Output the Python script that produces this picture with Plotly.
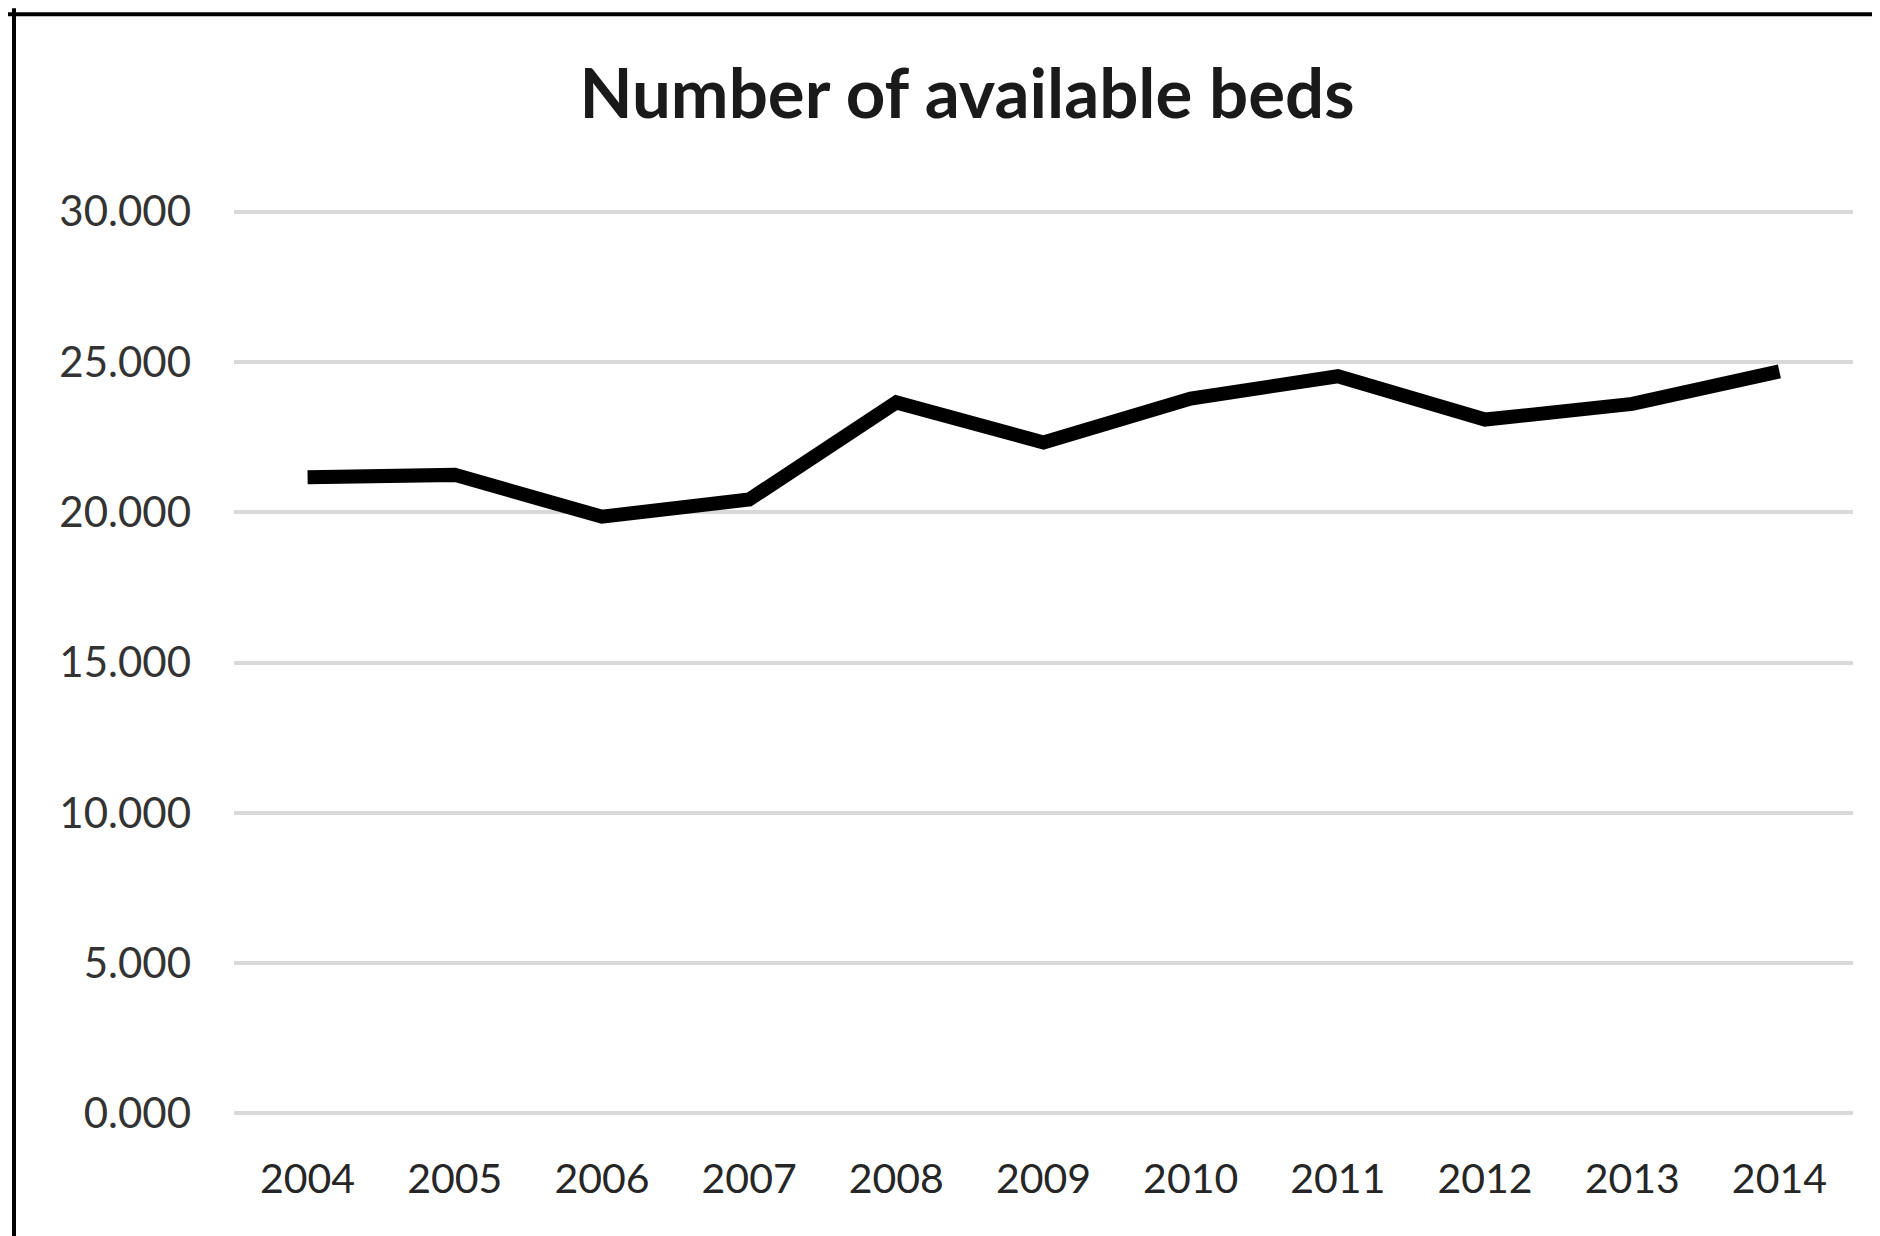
import plotly.graph_objects as go

years = ["2004", "2005", "2006", "2007", "2008", "2009", "2010", "2011", "2012", "2013", "2014"]
beds = [21160, 21240, 19850, 20420, 23650, 22320, 23780, 24520, 23080, 23600, 24680]
y_tick_vals = [0, 5000, 10000, 15000, 20000, 25000, 30000]
y_tick_text = ["0.000", "5.000", "10.000", "15.000", "20.000", "25.000", "30.000"]
title_text = "Number of available beds"

W, H = 1880, 1236
OFF = 8  # page body offset
Y_MIN, Y_MAX = 0, 30000
PAD = 150  # extra range so edge gridlines are drawn
top_px, bot_px = 212, 1113  # page y of 30000 and 0
scale = (bot_px - top_px) / (Y_MAX - Y_MIN)
pad_px = PAD * scale
L, R = 234 - OFF, 27 + OFF
T = top_px - pad_px - OFF
B = H - (bot_px + pad_px - OFF)
pw, ph = W - L - R, H - T - B

fig = go.Figure()
fig.add_trace(go.Scatter(
    x=years, y=beds, mode="lines",
    line=dict(color="#000000", width=14, shape="linear"),
    hoverinfo="x+y", showlegend=False,
))

def px_to_paper_x(px):
    return (px - OFF - L) / pw

def px_to_paper_y(py):
    return (H - B - (py - OFF)) / ph

fig.update_layout(
    width=W, height=H,
    margin=dict(l=L, r=R, t=T, b=B, pad=0),
    paper_bgcolor="white", plot_bgcolor="white",
    title=dict(text=title_text, x=(967 - OFF) / W, xanchor="center", xref="container",
               y=1 - (94 - OFF) / H, yanchor="middle", yref="container",
               font=dict(family="Lato", size=69, color="#1a1a1a", weight="bold")),
    font=dict(family="Lato", color="#333333"),
    xaxis=dict(
        type="category", range=[-0.5, 10.5], showgrid=False, zeroline=False,
        showline=False, ticks="", tickfont=dict(family="Lato", size=41, color="#262626"),
        ticklabelstandoff=int(round(38 - pad_px)),
    ),
    yaxis=dict(
        range=[Y_MIN - PAD, Y_MAX + PAD], tickvals=y_tick_vals, ticktext=y_tick_text,
        showgrid=True, gridcolor="#d9d9d9", gridwidth=4, zeroline=False,
        showline=False, ticks="", tickfont=dict(family="Lato", size=42, color="#333333"),
        ticklabelstandoff=42,
    ),
    shapes=[
        dict(type="line", xref="paper", yref="paper",
             x0=px_to_paper_x(8), x1=px_to_paper_x(W + 20),
             y0=px_to_paper_y(15), y1=px_to_paper_y(15),
             line=dict(color="black", width=4)),
        dict(type="line", xref="paper", yref="paper",
             x0=px_to_paper_x(14), x1=px_to_paper_x(14),
             y0=px_to_paper_y(9), y1=px_to_paper_y(H + 20),
             line=dict(color="black", width=4)),
    ],
)

fig.write_html("out.html")
